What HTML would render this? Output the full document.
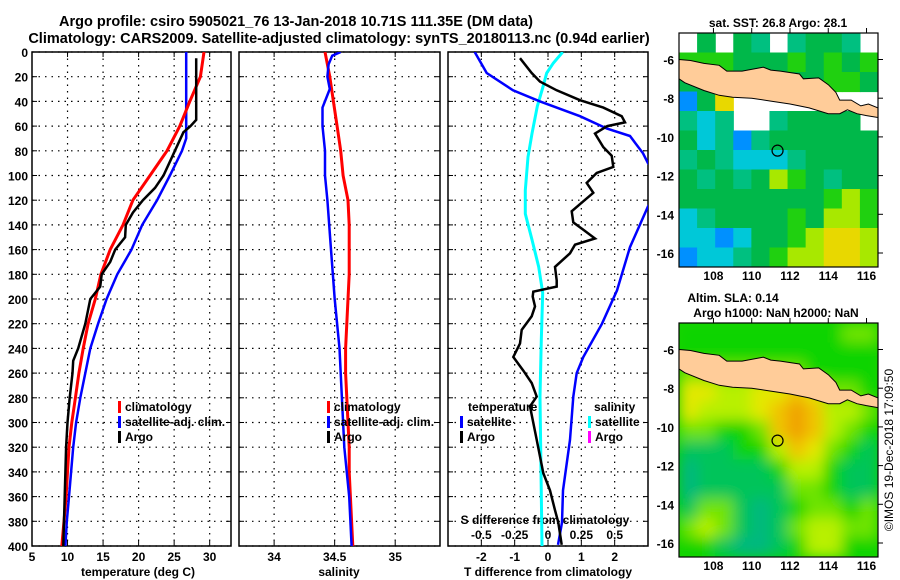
<!DOCTYPE html>
<html><head><meta charset="utf-8">
<style>
html,body{margin:0;padding:0;background:#fff;}
svg{display:block;font-family:"Liberation Sans",Arial,sans-serif;font-weight:bold;}
text{fill:#000;}
</style></head>
<body>
<svg id="fig" width="900" height="580" viewBox="0 0 900 580">
<defs>
<clipPath id="c1"><rect x="32" y="52" width="199" height="494"/></clipPath>
<clipPath id="c2"><rect x="239" y="52" width="201" height="494"/></clipPath>
<clipPath id="c3"><rect x="448" y="52" width="200" height="494"/></clipPath>
<clipPath id="cm1"><rect x="679" y="33" width="199" height="234"/></clipPath>
<clipPath id="cm2"><rect x="679" y="323" width="199" height="234"/></clipPath>
<filter id="blur" x="-10%" y="-10%" width="120%" height="120%"><feGaussianBlur stdDeviation="7" edgeMode="duplicate"/></filter>
</defs>
<text x="296" y="26" font-size="14.5" text-anchor="middle">Argo profile: csiro 5905021_76 13-Jan-2018 10.71S 111.35E (DM data)</text>
<text x="339" y="43" font-size="14.5" text-anchor="middle">Climatology: CARS2009. Satellite-adjusted climatology: synTS_20180113.nc (0.94d earlier)</text>
<g id="g1"></g>
<g id="g2"></g>
<g id="g3"></g>
<g id="m1"></g>
<g id="m2"></g>
<text x="778" y="27" font-size="12" text-anchor="middle">sat. SST: 26.8 Argo: 28.1</text>
<text x="733" y="302" font-size="12" text-anchor="middle">Altim. SLA: 0.14</text>
<text x="776" y="317" font-size="12" text-anchor="middle">Argo h1000: NaN h2000: NaN</text>
<text transform="translate(893,450) rotate(-90)" font-size="12" font-weight="normal" text-anchor="middle">©IMOS 19-Dec-2018 17:09:50</text>
</svg>
<script>
// ---- profile data ----
const depthsClim = [0,20,40,60,80,100,120,140,160,180,200,220,240,260,280,300,320,340,360,380,400];
const tempClim = [29.2,28.7,27.2,25.8,24.0,21.6,19.2,17.8,16.0,14.7,13.9,12.9,12.2,11.6,11.1,10.6,10.2,10.0,9.8,9.5,9.2];
const depthsSat = [0,70,80,100,120,140,160,180,200,220,240,260,280,300,320,340,360,380,400];
const tempSat = [26.7,26.7,26.1,24.4,22.6,20.5,19.0,17.0,15.5,14.3,13.2,12.5,11.8,11.2,10.8,10.5,10.2,9.9,9.7];
const depthsArgo = [5,55,60,65,80,100,110,120,130,140,150,160,170,180,190,195,200,220,240,250,260,280,300,320,360,400];
const tempArgo = [28.1,28.1,27.3,26.3,25.1,23.5,22.3,20.6,19.2,18.2,18.1,16.7,16.0,14.8,14.6,13.9,13.2,12.5,11.5,10.8,10.7,10.3,10.0,9.8,9.6,9.4];
const salClim = [34.42,34.46,34.49,34.52,34.55,34.57,34.61,34.62,34.62,34.62,34.61,34.60,34.59,34.59,34.60,34.61,34.62,34.62,34.63,34.64,34.65];
const depthsSalSat = [0,3,10,20,30,45,60,80,100,120,160,200,240,280,320,360,400];
const salSat = [34.55,34.48,34.45,34.44,34.46,34.40,34.40,34.42,34.42,34.44,34.47,34.50,34.54,34.56,34.58,34.62,34.64];
const depthsTdSat = [0,17,31,40,52,62,68,82,90,100,115,125,158,193,220,247,260,279,314,355,381,399];
const tDiffSat = [-2.2,-1.84,-1.05,-0.24,0.96,1.77,2.46,2.85,3.0,3.3,3.3,3.0,2.46,2.07,1.62,1.06,0.86,0.76,0.66,0.45,0.42,0.3];
const depthsTdArgo = [5,17,24,31,39,45,52,57,60,66,77,84,93,98,106,114,122,129,138,144,151,156,163,174,185,190,194,198,206,214,225,236,247,258,268,279,287,314,341,355,371,381,399];
const tDiffArgo = [-0.84,-0.49,-0.24,0.26,0.96,1.66,2.21,2.31,1.78,1.41,1.66,1.91,1.96,1.46,1.16,1.36,1.01,0.71,0.76,1.06,1.41,0.81,0.66,0.21,0.26,0.26,-0.44,-0.46,-0.39,-0.49,-0.79,-0.84,-1.04,-0.74,-0.49,-0.34,-0.54,-0.34,-0.14,0.06,0.21,0.31,0.41];
const depthsSd = [0,9,17,29,44,66,85,112,131,152,174,195,233,279,400];
const sDiffSat = [0.11,0.04,-0.01,-0.04,-0.08,-0.12,-0.15,-0.17,-0.17,-0.12,-0.07,-0.04,-0.05,-0.06,-0.045];
const depthTicks = [0,20,40,60,80,100,120,140,160,180,200,220,240,260,280,300,320,340,360,380,400];
const tempTicks = [5,10,15,20,25,30];
const salTicks = [34,34.5,35];
const tdTicks = [-2,-1,0,1,2];
const sdTicks = [-0.5,-0.25,0,0.25,0.5];
const sdTickLabels = ['-0.5','-0.25','0','0.25','0.5'];
// ---- map data ----
const sstGrid = [
 [-1,4,-1,4,3,-1,3,4,4,3,-1],
 [5,5,5,4,4,4,5,4,5,4,5],
 [4,4,4,4,4,4,4,4,5,5,4],
 [1,4,7,-1,-1,-1,-1,-1,-1,-1,-1],
 [3,2,3,-1,-1,3,4,4,4,4,-1],
 [4,2,3,1,3,4,4,4,4,4,4],
 [3,4,3,2,2,2,3,4,4,4,4],
 [4,3,4,3,4,6,5,4,3,4,4],
 [4,4,4,4,4,4,4,4,5,6,5],
 [2,3,4,4,4,4,5,4,6,6,5],
 [2,2,1,2,4,4,5,6,7,7,6],
 [1,2,2,3,4,5,6,6,7,7,6]];
const sstPalette = ['#0018b0','#0090ff','#00c8d8','#00c080','#00b84a','#20d010','#a8e800','#e8d800','#f0a000'];
const slaGrid = [
 [2,2,2,2,2,2,2,2,2,3,3],
 [2,2,2,2,2,2,2,2,2,2,2],
 [3,3,3,3,3,3,3,2,2,2,2],
 [5,5,4,4,5,5,6,5,3,3,2],
 [5,4,4,4,5,6,7,6,4,4,3],
 [3,3,2,2,3,6,7,6,4,3,2],
 [1,1,1,2,2,4,6,5,3,2,1],
 [0,1,1,1,1,2,4,4,2,1,1],
 [0,1,1,1,1,1,3,3,2,1,1],
 [1,3,3,1,0,1,2,3,3,2,3],
 [3,4,3,1,0,1,3,4,4,3,3],
 [2,2,1,0,0,1,2,4,4,2,2]];
const slaPalette = ['#00b880','#00c45a','#10d400','#70e400','#b8f000','#e4e800','#f0c400','#f0a000'];
const latTicks = [-6,-8,-10,-12,-14,-16];
const lonTicks = [108,110,112,114,116];
const argoLon = 111.35, argoLat = -10.71;
const javaLon = [106.2,106.8,107.5,108.3,108.7,109.5,110.3,110.6,111.0,111.5,112.5,112.7,113.5,114.0,114.4,114.6,115.2,115.7,116.1,116.6,116.6,116.0,115.5,115.0,114.6,114.0,113.0,112.0,111.0,110.0,109.0,108.3,107.5,106.5,106.2];
const javaLat = [-6.0,-6.05,-6.2,-6.3,-6.6,-6.6,-6.45,-6.4,-6.55,-6.6,-6.75,-7.0,-6.95,-7.3,-7.7,-8.1,-8.1,-8.4,-8.3,-8.5,-9.0,-8.9,-8.8,-8.6,-8.8,-8.8,-8.5,-8.3,-8.15,-8.0,-7.95,-7.85,-7.6,-7.2,-7.0];

const NS='http://www.w3.org/2000/svg';
function mk(tag,parent){const e=document.createElementNS(NS,tag);parent.appendChild(e);return e;}
const Y0=52,Y1=546;
function yD(d){return Y0+(d/400)*(Y1-Y0);}
function lin(d0,d1,r0,r1){return v=>r0+(v-d0)/(d1-d0)*(r1-r0);}
const xT=lin(5,33,32,231), xS=lin(33.71,35.37,239,440), xTD=lin(-3,3,448,648), xSD=lin(-0.75,0.75,448,648);

function line(parent,xs,ds,xf,color,w,clip,name){
  let d='';
  for(let i=0;i<xs.length;i++){d+=(i?'L':'M')+xf(xs[i]).toFixed(1)+','+yD(ds[i]).toFixed(1);}
  const p=mk('path',parent);
  p.setAttribute('d',d);p.setAttribute('fill','none');p.setAttribute('stroke',color);
  p.setAttribute('stroke-width',w);p.setAttribute('clip-path','url(#'+clip+')');
  
  
}
function txt(parent,x,y,s,anchor,size){
  const t=mk('text',parent);t.setAttribute('x',x);t.setAttribute('y',y);
  t.setAttribute('font-size',size||12);t.setAttribute('text-anchor',anchor||'start');t.textContent=s;return t;
}
function frame(parent,x0,x1,xticks,xf,name){
  const g=mk('g',parent);
  
  
  depthTicks.forEach(d=>{
    const l=mk('line',g);l.setAttribute('x1',x0);l.setAttribute('x2',x1);l.setAttribute('y1',yD(d));l.setAttribute('y2',yD(d));
    l.setAttribute('stroke','#000');l.setAttribute('stroke-width',1.2);l.setAttribute('stroke-dasharray','1.5,5');
    const t1=mk('line',g);t1.setAttribute('x1',x0);t1.setAttribute('x2',x0+5);t1.setAttribute('y1',yD(d));t1.setAttribute('y2',yD(d));t1.setAttribute('stroke','#000');
    const t2=mk('line',g);t2.setAttribute('x1',x1-5);t2.setAttribute('x2',x1);t2.setAttribute('y1',yD(d));t2.setAttribute('y2',yD(d));t2.setAttribute('stroke','#000');
  });
  xticks.forEach(v=>{
    const x=xf(v);
    const l=mk('line',g);l.setAttribute('x1',x);l.setAttribute('x2',x);l.setAttribute('y1',Y0);l.setAttribute('y2',Y1);
    l.setAttribute('stroke','#000');l.setAttribute('stroke-width',1.2);l.setAttribute('stroke-dasharray','1.5,5');
    const t1=mk('line',g);t1.setAttribute('x1',x);t1.setAttribute('x2',x);t1.setAttribute('y1',Y1-5);t1.setAttribute('y2',Y1);t1.setAttribute('stroke','#000');
    const t2=mk('line',g);t2.setAttribute('x1',x);t2.setAttribute('x2',x);t2.setAttribute('y1',Y0);t2.setAttribute('y2',Y0+5);t2.setAttribute('stroke','#000');
  });
  const r=mk('rect',g);r.setAttribute('x',x0);r.setAttribute('y',Y0);r.setAttribute('width',x1-x0);r.setAttribute('height',Y1-Y0);
  r.setAttribute('fill','none');r.setAttribute('stroke','#000');r.setAttribute('stroke-width',1.5);
}
function xLabels(parent,ticks,xf,labels,y,name){
  ticks.forEach((v,i)=>{
    const t=txt(parent,xf(v),y,labels?labels[i]:String(v),'middle');
    
    
  });
}
function legendEntry(parent,x,y,color,label){
  const r=mk('rect',parent);r.setAttribute('x',x);r.setAttribute('y',y-10);r.setAttribute('width',3);r.setAttribute('height',12);r.setAttribute('fill',color);
  const t=txt(parent,x+7,y,label,'start');
  
  
}

// Panel 1
const g1=document.getElementById('g1');
frame(g1,32,231,tempTicks.slice(1),xT,'temperature');
depthTicks.forEach(d=>{const t=txt(g1,28,yD(d)+5,String(d),'end');
  
  });
xLabels(g1,tempTicks,xT,null,561,'temperature-tick-label');
const xt1=txt(g1,138,576,'temperature (deg C)','middle');


line(g1,tempSat,depthsSat,xT,'#0000ff',2.5,'c1','satellite-temperature-line');
line(g1,tempClim,depthsClim,xT,'#ff0000',3,'c1','climatology-temperature-line');
line(g1,tempArgo,depthsArgo,xT,'#000',2.5,'c1','argo-temperature-line');
legendEntry(g1,118,411,'#ff0000','climatology');
legendEntry(g1,118,426,'#0000ff','satellite-adj. clim.');
legendEntry(g1,118,441,'#000','Argo');

// Panel 2
const g2=document.getElementById('g2');
frame(g2,239,440,salTicks,xS,'salinity');
xLabels(g2,salTicks,xS,null,561,'salinity-tick-label');
const xt2=txt(g2,339,576,'salinity','middle');


line(g2,salClim,depthsClim,xS,'#ff0000',3,'c2','climatology-salinity-line');
line(g2,salSat,depthsSalSat,xS,'#0000ff',2.5,'c2','satellite-salinity-line');
legendEntry(g2,327,411,'#ff0000','climatology');
legendEntry(g2,327,426,'#0000ff','satellite-adj. clim.');
legendEntry(g2,327,441,'#000','Argo');

// Panel 3
const g3=document.getElementById('g3');
frame(g3,448,648,tdTicks,xTD,'difference');
xLabels(g3,tdTicks,xTD,null,561,'t-difference-tick-label');
const xt3=txt(g3,548,576,'T difference from climatology','middle');


const st=txt(g3,545,524,'S difference from climatology','middle');


xLabels(g3,sdTicks,xSD,sdTickLabels,539,'s-difference-tick-label');
line(g3,sDiffSat,depthsSd,xSD,'#00ffff',3,'c3','satellite-salinity-difference-line');
line(g3,tDiffSat,depthsTdSat,xTD,'#0000ff',2.5,'c3','satellite-temperature-difference-line');
line(g3,tDiffArgo,depthsTdArgo,xTD,'#000',2.5,'c3','argo-temperature-difference-line');
const lt=txt(g3,468,411,'temperature','start');


legendEntry(g3,460,426,'#0000ff','satellite');
legendEntry(g3,460,441,'#000','Argo');
const ls=txt(g3,594,411,'salinity','start');


legendEntry(g3,588,426,'#00ffff','satellite');
legendEntry(g3,588,441,'#ff00ff','Argo');

// Maps
function drawMap(gid,top,grid,pal,clip,blur,name){
  const g=document.getElementById(gid);
  const X0=679,X1=878,T=top,B=top+234;
  const lonX=lin(106.2,116.6,X0,X1);
  const latY=lin(-6,-16,T+26.5,T+220);
  const bg=mk('rect',g);bg.setAttribute('x',X0);bg.setAttribute('y',T);bg.setAttribute('width',199);bg.setAttribute('height',234);
  bg.setAttribute('fill',blur?pal[2]:'#fff');
  const cells=mk('g',g);cells.setAttribute('clip-path','url(#'+clip+')');
  
  
  const inner=mk('g',cells);
  if(blur)inner.setAttribute('filter','url(#blur)');
  const cw=199/grid[0].length,ch=234/grid.length;
  grid.forEach((row,r)=>row.forEach((v,c)=>{
    if(v<0)return;
    const rc=mk('rect',inner);rc.setAttribute('x',(X0+c*cw).toFixed(2));rc.setAttribute('y',(T+r*ch).toFixed(2));
    rc.setAttribute('width',(cw+0.6).toFixed(2));rc.setAttribute('height',(ch+0.6).toFixed(2));rc.setAttribute('fill',pal[v]);
    
    
  }));
  let d='';
  javaLon.forEach((lo,i)=>{d+=(i?'L':'M')+lonX(lo).toFixed(1)+','+latY(javaLat[i]).toFixed(1);});
  const land=mk('path',cells);land.setAttribute('d',d+'Z');land.setAttribute('fill','#ffcc99');land.setAttribute('stroke','#000');land.setAttribute('stroke-width',1);
  
  
  const mk1=mk('circle',g);mk1.setAttribute('cx',lonX(argoLon));mk1.setAttribute('cy',latY(argoLat));mk1.setAttribute('r',5.5);
  mk1.setAttribute('fill','none');mk1.setAttribute('stroke','#000');mk1.setAttribute('stroke-width',1.2);
  
  
  const fr=mk('rect',g);fr.setAttribute('x',X0);fr.setAttribute('y',T);fr.setAttribute('width',199);fr.setAttribute('height',234);
  fr.setAttribute('fill','none');fr.setAttribute('stroke','#000');fr.setAttribute('stroke-width',1.2);
  latTicks.forEach(la=>{
    const y=latY(la);
    const t=txt(g,674,y+5,String(la),'end');
    
    
    const tk=mk('line',g);tk.setAttribute('x1',X1);tk.setAttribute('x2',X1+5);tk.setAttribute('y1',y);tk.setAttribute('y2',y);tk.setAttribute('stroke','#000');
  });
  lonTicks.forEach(lo=>{
    const x=lonX(lo);
    const t=txt(g,x,B+13,String(lo),'middle');
    
    
    const tk=mk('line',g);tk.setAttribute('x1',x);tk.setAttribute('x2',x);tk.setAttribute('y1',T-5);tk.setAttribute('y2',T);tk.setAttribute('stroke','#000');
  });
}
drawMap('m1',33,sstGrid,sstPalette,'cm1',false,'sst-map');
drawMap('m2',323,slaGrid,slaPalette,'cm2',true,'sla-map');
</script>
</body></html>
